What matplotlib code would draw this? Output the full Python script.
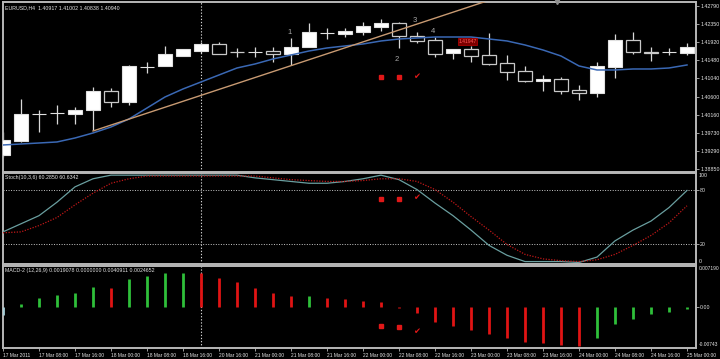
import matplotlib
matplotlib.use('Agg')
import matplotlib.pyplot as plt
import numpy as np
from matplotlib.transforms import blended_transform_factory as btf

plt.rcParams['font.family'] = ['Liberation Sans', 'DejaVu Sans']

# ---------------- data ----------------
opens  = [1.39188, 1.39527, 1.40179, 1.40204, 1.40179, 1.40276, 1.40735, 1.40469, 1.41315, 1.41340,
          1.41581, 1.41702, 1.41871, 1.41678, 1.41670, 1.41702, 1.41630, 1.41799, 1.42137, 1.42113,
          1.42161, 1.42282, 1.42379, 1.42065, 1.41968, 1.41654, 1.41750, 1.41605, 1.41412, 1.41219,
          1.40977, 1.41025, 1.40759, 1.40687, 1.41315, 1.41968, 1.41678, 1.41670, 1.41654]
highs  = [1.39744, 1.40542, 1.40276, 1.40397, 1.40349, 1.40832, 1.40808, 1.41364, 1.41436, 1.41823,
          1.41760, 1.41920, 1.41920, 1.41775, 1.41799, 1.41799, 1.42016, 1.42379, 1.42258, 1.42258,
          1.42403, 1.42476, 1.42403, 1.42161, 1.42040, 1.41755, 1.41823, 1.42137, 1.41605, 1.41340,
          1.41122, 1.41074, 1.40880, 1.41436, 1.42113, 1.42161, 1.41799, 1.41775, 1.41895]
lows   = [1.39140, 1.39503, 1.39744, 1.39938, 1.39938, 1.39793, 1.40349, 1.40397, 1.41170, 1.41335,
          1.41575, 1.41654, 1.41625, 1.41557, 1.41557, 1.41436, 1.41364, 1.41790, 1.41992, 1.42040,
          1.42089, 1.42185, 1.41775, 1.41895, 1.41557, 1.41509, 1.41436, 1.41364, 1.41001, 1.40953,
          1.40735, 1.40663, 1.40518, 1.40590, 1.41050, 1.41630, 1.41460, 1.41605, 1.41605]
closes = [1.39551, 1.40179, 1.40190, 1.40210, 1.40276, 1.40735, 1.40469, 1.41340, 1.41325, 1.41630,
          1.41750, 1.41871, 1.41630, 1.41670, 1.41680, 1.41630, 1.41799, 1.42161, 1.42145, 1.42185,
          1.42306, 1.42379, 1.42065, 1.41944, 1.41630, 1.41750, 1.41581, 1.41388, 1.41195, 1.40977,
          1.41025, 1.40735, 1.40687, 1.41340, 1.41968, 1.41678, 1.41665, 1.41678, 1.41799]

ma_values = [1.39430, 1.39454, 1.39478, 1.39503, 1.39599, 1.39720, 1.39865, 1.40059, 1.40324, 1.40590,
             1.40784, 1.40953, 1.41122, 1.41291, 1.41388, 1.41509, 1.41605, 1.41702, 1.41775, 1.41823,
             1.41871, 1.41944, 1.41992, 1.42016, 1.42040, 1.42040, 1.42040, 1.41992, 1.41944, 1.41847,
             1.41726, 1.41581, 1.41340, 1.41243, 1.41243, 1.41267, 1.41267, 1.41291, 1.41364]

trend_bars = [5, 26]
trend_prices = [1.39768, 1.42783]

stoch_main = [34, 43, 52, 67, 84, 93, 97, 97, 97, 97, 97, 97, 97, 97, 94, 92, 90, 88, 88, 90,
              93, 97, 92, 81, 66, 52, 36, 19, 8, 1, 1, 1, 0, 6, 24, 36, 46, 61, 80]
stoch_signal = [33, 34, 41, 50, 64, 77, 88, 93, 96, 96, 96, 96, 96, 96, 96, 94, 92, 91, 90, 90,
                91, 93, 93, 90, 81, 67, 51, 36, 20, 9, 4, 2, 1, 3, 9, 19, 30, 44, 63]

macd_hist = [-0.0015, 0.0005, 0.0016, 0.0021, 0.0026, 0.0037, 0.0035, 0.0051, 0.0057, 0.0062,
             0.0063, 0.0062, 0.0053, 0.0045, 0.0034, 0.0025, 0.0019, 0.0020, 0.0016, 0.0014,
             0.0010, 0.0008, -0.0002, -0.0012, -0.0028, -0.0036, -0.0043, -0.0051, -0.0059, -0.0066,
             -0.0068, -0.0071, -0.0073, -0.0058, -0.0033, -0.0022, -0.0014, -0.0009, -0.0004]

time_labels = ["17 Mar 2011", "17 Mar 08:00", "17 Mar 16:00", "18 Mar 00:00", "18 Mar 08:00",
               "18 Mar 16:00", "20 Mar 16:00", "21 Mar 00:00", "21 Mar 08:00", "21 Mar 16:00",
               "22 Mar 00:00", "22 Mar 08:00", "22 Mar 16:00", "23 Mar 00:00", "23 Mar 08:00",
               "23 Mar 16:00", "24 Mar 00:00", "24 Mar 08:00", "24 Mar 16:00", "25 Mar 00:00"]

price_ticks = [1.38850, 1.39290, 1.39730, 1.40160, 1.40600, 1.41040, 1.41480, 1.41920, 1.42350, 1.42790]
price_tick_labels = ["1.38850", "1.39290", "1.39730", "1.40160", "1.40600", "1.41040", "1.41480",
                     "1.41920", "1.42350", "1.42790"]

wave_labels = ["1", "2", "3", "4"]
wave_bars = [15.9, 21.9, 22.9, 23.9]
wave_prices = [1.42137, 1.41485, 1.42427, 1.42161]

signal_bars = [21, 22, 23]
signal_price = [1.41074, 1.41074, 1.41090]
signal_stoch = [70.5, 70.5, 71.7]
signal_macd = [-0.00359, -0.00377, -0.00452]

cursor_bar = 11
title_text = "EURUSD,H4  1.40917 1.41002 1.40838 1.40940"
stoch_text = "Stoch(10,3,6) 60.2850 60.6342"
macd_text = "MACD-2 (12,26,9) 0.0019078 0.0000000 0.0040911 0.0024652"

# ---------------- style ----------------
BG = 'black'
FG = '#e6e6e6'
SPINE = '#b8b8b8'
FS = 3.8
FSX = 3.5

W, H = 720, 359
fig = plt.figure(figsize=(7.2, 3.59), dpi=100, facecolor=BG)

def rect(x0, y0, x1, y1):
    return [x0 / W, 1 - y1 / H, (x1 - x0) / W, (y1 - y0) / H]

ax_p = fig.add_axes(rect(3, 2, 696, 172), facecolor=BG)
ax_s = fig.add_axes(rect(3, 173, 696, 264), facecolor=BG, sharex=ax_p)
ax_m = fig.add_axes(rect(3, 266, 696, 348), facecolor=BG, sharex=ax_p)

n = len(opens)
x = np.arange(n)

for ax in (ax_p, ax_s, ax_m):
    for sp in ax.spines.values():
        sp.set_color(SPINE)
        sp.set_linewidth(1.4)
    ax.yaxis.tick_right()
    ax.tick_params(axis='y', colors=SPINE, labelcolor=FG, labelsize=FS, length=2, width=0.6, pad=1.0)
    ax.tick_params(axis='x', bottom=False, labelbottom=False)
    ax.axvline(cursor_bar, color='#d0d0d0', lw=0.8, ls=(0, (1.2, 1.6)), zorder=1)

ax_p.set_xlim(0, 38.5)

# ---------------- price panel ----------------
o = np.array(opens); c = np.array(closes); h = np.array(highs); l = np.array(lows)
bull = c >= o
ax_p.vlines(x, l, h, color='#d8d8d8', lw=0.9, zorder=2)
body_bottom = np.minimum(o, c)
body_h = np.maximum(np.abs(c - o), 0.00003)
ax_p.bar(x[bull], body_h[bull], 0.76, bottom=body_bottom[bull], color='white',
         edgecolor='#e0e0e0', linewidth=0.8, zorder=3)
ax_p.bar(x[~bull], body_h[~bull], 0.76, bottom=body_bottom[~bull], color='black',
         edgecolor='#c8c8c8', linewidth=0.9, zorder=3)

ax_p.plot(x, ma_values, color='#3a68b4', lw=1.1, zorder=4)

slope = (trend_prices[1] - trend_prices[0]) / (trend_bars[1] - trend_bars[0])
ext_bar = 40
ax_p.plot([trend_bars[0], ext_bar], [trend_prices[0], trend_prices[0] + slope * (ext_bar - trend_bars[0])],
          color='#c89a72', lw=1.0, zorder=4)

ax_p.set_ylim(1.38777, 1.42886)
ax_p.set_yticks(price_ticks)
ax_p.set_yticklabels(price_tick_labels)

for t, bx, py in zip(wave_labels, wave_bars, wave_prices):
    ax_p.text(bx, py, t, color='#a8a8a8', fontsize=5.5, ha='center', va='center', zorder=5)

ax_p.plot(signal_bars[:2], signal_price[:2], ls='none', marker='s', ms=2.6, color='#e01818', zorder=5)
ax_p.text(signal_bars[2], signal_price[2], '\u2714', color='#e01818', fontsize=6,
          ha='center', va='center', family=['DejaVu Sans'], zorder=5)

ax_p.text(25.8, 1.41935, '1.41947', color='#ff5a5a', fontsize=3.6, ha='center', va='center',
          bbox=dict(boxstyle='square,pad=0.15', facecolor='#7a0000', edgecolor='#c00000', lw=0.5), zorder=6)

ax_p.text(0.003, 0.965, title_text, transform=ax_p.transAxes, color=FG, fontsize=FS,
          ha='left', va='center', zorder=6)

ax_p.plot([30.8], [1.0], marker='v', ms=3, color='#909090', transform=btf(ax_p.transData, ax_p.transAxes),
          clip_on=False, zorder=6)

# ---------------- stochastic panel ----------------
ax_s.plot(x, stoch_main, color='#6a9fa0', lw=0.9, zorder=3)
ax_s.plot(x, stoch_signal, color='#c01818', lw=0.9, ls=(0, (1, 1.2)), zorder=3)
for lv in (20, 80):
    ax_s.axhline(lv, color='#c8c8c8', lw=0.7, ls=(0, (1, 1.6)), zorder=1)
ax_s.set_ylim(-1.7, 99.4)
ax_s.set_yticks([20, 80])
ax_s.set_yticklabels(['20', '80'])
ax_s.text(1.004, 0.995, '100', transform=ax_s.transAxes, color=FG, fontsize=FS, ha='left', va='top')
ax_s.text(1.004, 0.005, '0', transform=ax_s.transAxes, color=FG, fontsize=FS, ha='left', va='bottom')
ax_s.text(0.003, 0.95, stoch_text, transform=ax_s.transAxes, color=FG, fontsize=FS, ha='left', va='center')

ax_s.plot(signal_bars[:2], signal_stoch[:2], ls='none', marker='s', ms=2.6, color='#e01818', zorder=5)
ax_s.text(signal_bars[2], signal_stoch[2], '\u2714', color='#e01818', fontsize=6,
          ha='center', va='center', family=['DejaVu Sans'], zorder=5)

# ---------------- MACD panel ----------------
mh = np.array(macd_hist)
colors = ['#a8cfd8'] + ['#2fbf3a' if mh[i] > mh[i - 1] else '#e01414' for i in range(1, n)]
ax_m.vlines(x, 0, mh, colors=colors, lw=2.0, zorder=3)
ax_m.set_ylim(-0.007677, 0.007565)
ax_m.set_yticks([0.0])
ax_m.set_yticklabels(['0.00'])
ax_m.text(1.004, 0.995, '0.007190', transform=ax_m.transAxes, color=FG, fontsize=FS - 0.3, ha='left', va='top')
ax_m.text(1.004, 0.01, '-0.00743', transform=ax_m.transAxes, color=FG, fontsize=FS - 0.3, ha='left', va='bottom')
ax_m.text(0.003, 0.95, macd_text, transform=ax_m.transAxes, color=FG, fontsize=FS, ha='left', va='center')

ax_m.plot(signal_bars[:2], signal_macd[:2], ls='none', marker='s', ms=2.6, color='#e01818', zorder=5)
ax_m.text(signal_bars[2], signal_macd[2], '\u2714', color='#e01818', fontsize=6,
          ha='center', va='center', family=['DejaVu Sans'], zorder=5)

ax_m.tick_params(axis='x', bottom=True, labelbottom=True, colors=SPINE, labelcolor=FG,
                 labelsize=FSX, length=2, width=0.6, pad=1.5)
ax_m.set_xticks(np.arange(0, n, 2))
ax_m.set_xticklabels(time_labels)
for lab in ax_m.get_xticklabels():
    lab.set_horizontalalignment('left')

fig.savefig('out.png', dpi=100, facecolor=BG)
